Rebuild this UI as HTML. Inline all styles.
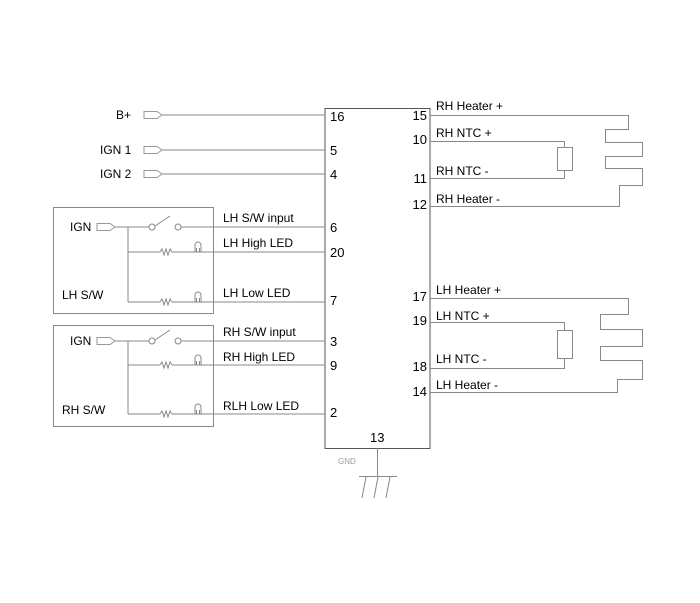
<!DOCTYPE html>
<html><head><style>html,body{margin:0;padding:0;background:#fff}svg{display:block}</style></head><body>
<svg width="700" height="603" viewBox="0 0 700 603" xmlns="http://www.w3.org/2000/svg" font-family="Liberation Sans, sans-serif" font-size="12" fill="none">
<defs>
<g id="plug" stroke="#999" stroke-width="1"><path d="M0,-3.5 H13 L18,0 L13,3.5 H0 Z"/></g>
<g id="res" stroke="#888" stroke-width="1"><path d="M0,0 L2,-3 L4,3 L6,-3 L8,3 L10,-3 L12,0"/></g>
<g id="led" stroke="#888" stroke-width="1"><path d="M-3,0 V-7 A3,3 0 0 1 3,-7 V0 M-1.5,0 V-4 M1.5,0 V-4"/></g>
</defs>
<g stroke="#888" stroke-width="1">
<rect x="325" y="108.5" width="105" height="340" stroke="#555"/>
<!-- left inputs -->
<use href="#plug" x="144" y="115"/><line x1="162" y1="115" x2="325" y2="115"/>
<use href="#plug" x="144" y="150"/><line x1="162" y1="150" x2="325" y2="150"/>
<use href="#plug" x="144" y="174"/><line x1="162" y1="174" x2="325" y2="174"/>
<!-- LH S/W box -->
<rect x="53.5" y="207.5" width="160" height="106"/>
<use href="#plug" x="97" y="227"/>
<line x1="115" y1="227" x2="149" y2="227"/>
<circle cx="152" cy="227" r="3"/><line x1="155" y1="226" x2="170" y2="216"/>
<circle cx="178" cy="227" r="3"/><line x1="181" y1="227" x2="325" y2="227"/>
<line x1="128" y1="227" x2="128" y2="302"/>
<line x1="128" y1="252" x2="160" y2="252"/><use href="#res" x="160" y="252"/><line x1="172" y1="252" x2="325" y2="252"/><use href="#led" x="198" y="252"/>
<line x1="128" y1="302" x2="160" y2="302"/><use href="#res" x="160" y="302"/><line x1="172" y1="302" x2="325" y2="302"/><use href="#led" x="198" y="302"/>
<!-- RH S/W box -->
<rect x="53.5" y="325.5" width="160" height="101"/>
<use href="#plug" x="97" y="341"/>
<line x1="115" y1="341" x2="149" y2="341"/>
<circle cx="152" cy="341" r="3"/><line x1="155" y1="340" x2="170" y2="330"/>
<circle cx="178" cy="341" r="3"/><line x1="181" y1="341" x2="325" y2="341"/>
<line x1="128" y1="341" x2="128" y2="414"/>
<line x1="128" y1="365" x2="160" y2="365"/><use href="#res" x="160" y="365"/><line x1="172" y1="365" x2="325" y2="365"/><use href="#led" x="198" y="365"/>
<line x1="128" y1="414" x2="160" y2="414"/><use href="#res" x="160" y="414"/><line x1="172" y1="414" x2="325" y2="414"/><use href="#led" x="198" y="414"/>
<!-- RH heater -->
<path d="M430,115.5 H628.5 V129.5 H605.5 V142.5 H642.5 V156.5 H605.5 V168.5 H642.5 V185.5 H619.5 V206.5 H430"/>
<path d="M430,141.5 H564.5 V147 M564.5,170 V178.5 H430"/>
<rect x="557.5" y="147.5" width="15" height="23"/>
<!-- LH heater -->
<path d="M430,298.5 H628.5 V314.5 H600.5 V329.5 H642.5 V346.5 H600.5 V360.5 H642.5 V379.5 H617.5 V392.5 H430"/>
<path d="M430,322.5 H564.5 V330 M564.5,358 V368.5 H430"/>
<rect x="557.5" y="330.5" width="15" height="28"/>
<!-- GND -->
<line x1="377.5" y1="448" x2="377.5" y2="477"/>
<line x1="359" y1="476.5" x2="397" y2="476.5"/>
<line x1="366" y1="477" x2="362" y2="498"/>
<line x1="378" y1="477" x2="374" y2="498"/>
<line x1="390" y1="477" x2="386" y2="498"/>
</g>
<g fill="#000">
<text x="116" y="119">B+</text>
<text x="100" y="154">IGN 1</text>
<text x="100" y="178">IGN 2</text>
<text x="70" y="231">IGN</text>
<text x="70" y="345">IGN</text>
<text x="62" y="299">LH S/W</text>
<text x="62" y="414">RH S/W</text>
<text x="223" y="222">LH S/W input</text>
<text x="223" y="247">LH High LED</text>
<text x="223" y="297">LH Low LED</text>
<text x="223" y="336">RH S/W input</text>
<text x="223" y="361">RH High LED</text>
<text x="223" y="410">RLH Low LED</text>
<text x="330" y="121" font-size="13">16</text>
<text x="330" y="155" font-size="13">5</text>
<text x="330" y="179" font-size="13">4</text>
<text x="330" y="232" font-size="13">6</text>
<text x="330" y="257" font-size="13">20</text>
<text x="330" y="305" font-size="13">7</text>
<text x="330" y="346" font-size="13">3</text>
<text x="330" y="370" font-size="13">9</text>
<text x="330" y="417" font-size="13">2</text>
<g text-anchor="end" font-size="13">
<text x="427" y="120">15</text>
<text x="427" y="144">10</text>
<text x="427" y="183">11</text>
<text x="427" y="209">12</text>
<text x="427" y="301">17</text>
<text x="427" y="325">19</text>
<text x="427" y="371">18</text>
<text x="427" y="396">14</text>
</g>
<text x="370" y="442" font-size="13">13</text>
<text x="436" y="110">RH Heater +</text>
<text x="436" y="137">RH NTC +</text>
<text x="436" y="175">RH NTC -</text>
<text x="436" y="203">RH Heater -</text>
<text x="436" y="294">LH Heater +</text>
<text x="436" y="320">LH NTC +</text>
<text x="436" y="363">LH NTC -</text>
<text x="436" y="389">LH Heater -</text>
<text x="338" y="464" font-size="8" fill="#999">GND</text>
</g>
</svg>
</body></html>
